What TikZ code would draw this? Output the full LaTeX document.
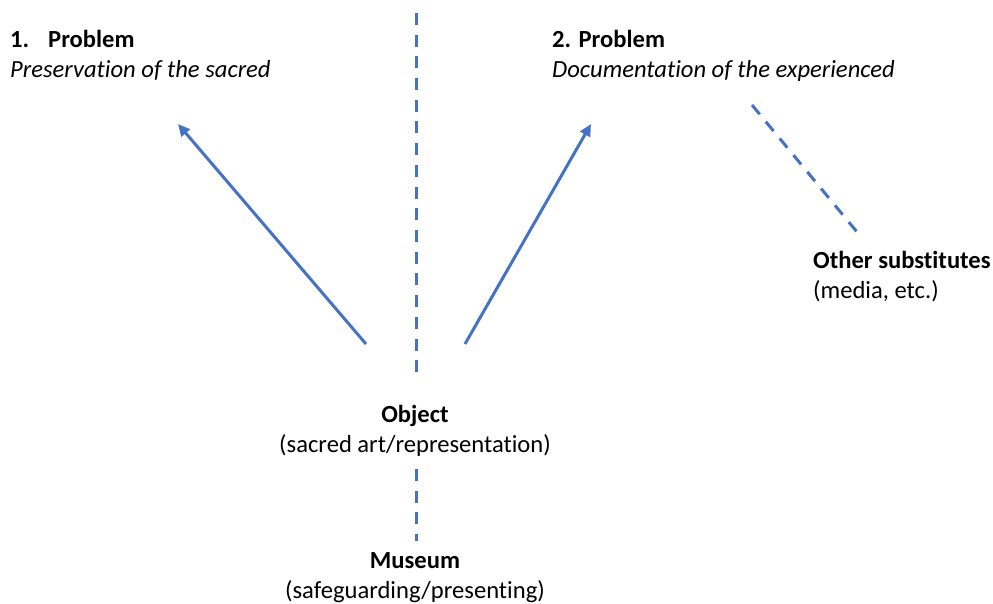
\documentclass[tikz,border=0pt]{standalone}
\usepackage{fontspec}
\setmainfont{Carlito}[Ligatures=NoCommon]
\usepackage{tikz}
\usetikzlibrary{positioning, arrows.meta}

\definecolor{offblue}{HTML}{4472C4}

\begin{document}
\begin{tikzpicture}[
  x=1pt, y=-1pt,
  font=\fontsize{24.6}{30}\selectfont,
  txt/.style={inner sep=0pt, align=left},
  ctxt/.style={inner sep=0pt, align=center},
  arr/.style={draw=offblue, line width=3pt, -{Triangle[length=12pt,width=11pt]}},
  dashline/.style={draw=offblue, line width=3pt, dash pattern=on 12pt off 9.7pt}
]
\useasboundingbox (0,0) rectangle (993,604);
% labels (anchored on the baseline of their last line)
\node[txt, anchor=base west] (prob1) at (10,78) {\textbf{\makebox[38pt][l]{1.}Problem}\\\textit{Preservation of the sacred}};
\node[txt, anchor=base west] (prob2) at (552,78) {\textbf{2. Problem}\\\textit{Documentation of the experienced}};
\node[txt, anchor=base west] (subst) at (813,298) {\textbf{Other substitutes}\\(media, etc.)};
\node[ctxt, anchor=base] (object) at (415,452) {\textbf{Object}\\(sacred art/representation)};
\node[ctxt, anchor=base] (museum) at (415,598) {\textbf{Museum}\\(safeguarding/presenting)};
% end points
\coordinate (axtop) at (416,13);
\coordinate (axbot) at (416,372);
\coordinate (lowtop) at (416,469);
\coordinate (lowbot) at (416,541);
\coordinate (leftfrom) at (366,344);
\coordinate (leftto) at (178,124);
\coordinate (rightfrom) at (465,344);
\coordinate (rightto) at (591,124);
\coordinate (diagtop) at (752,105);
\coordinate (diagbot) at (857,232);
% connectors
\draw[dashline] (axtop) -- (axbot);
\draw[dashline] (lowtop) -- (lowbot);
\draw[dashline] (diagtop) -- (diagbot);
\draw[arr] (leftfrom) -- (leftto);
\draw[arr] (rightfrom) -- (rightto);
\end{tikzpicture}
\end{document}
